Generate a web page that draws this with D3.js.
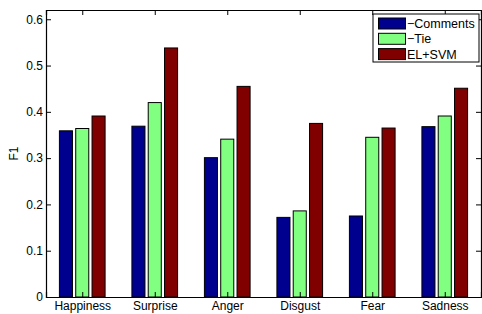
<!DOCTYPE html>
<html>
<head>
<meta charset="utf-8">
<script src="https://cdn.jsdelivr.net/npm/d3@7"></script>
<style>
  body { margin: 0; background: #fff; }
  svg { display: block; }
  text { font-family: "Liberation Sans", Arial, sans-serif; fill: #000; }
</style>
</head>
<body>
<div id="chart"></div>
<script>
// chart data
const categories = ['Happiness', 'Surprise', 'Anger', 'Disgust', 'Fear', 'Sadness'];
const seriesNames = ['\u2212Comments', '\u2212Tie', 'EL+SVM'];
const seriesColors = ['#00008f', '#80ff80', '#800000'];
const commentsValues = [0.359, 0.369, 0.301, 0.172, 0.175, 0.368];
const tieValues = [0.364, 0.420, 0.341, 0.186, 0.345, 0.391];
const elsvmValues = [0.391, 0.538, 0.455, 0.375, 0.365, 0.451];
const yTicks = [0, 0.1, 0.2, 0.3, 0.4, 0.5, 0.6];

const allSeries = [commentsValues, tieValues, elsvmValues];

const W = 482, H = 314;
const margin = {top: 10, right: 1, bottom: 17, left: 46};
const width = W - margin.left - margin.right;
const height = H - margin.top - margin.bottom;

const svg = d3.select('#chart').append('svg')
    .attr('width', W)
    .attr('height', H);

const x = d3.scaleLinear().domain([0.5, categories.length + 0.5]).range([0, width]);
const y = d3.scaleLinear().domain([0, 0.62]).range([height, 0]);

const g = svg.append('g')
    .attr('transform', 'translate(' + margin.left + ',' + margin.top + ')');

// bars
const barW = 0.18, step = 0.225;
allSeries.forEach(function (vals, s) {
  g.append('g').selectAll('rect')
      .data(vals)
      .join('rect')
      .attr('x', (d, i) => x(i + 1 + (s - 1) * step - barW / 2))
      .attr('width', x(barW) - x(0))
      .attr('y', d => y(d))
      .attr('height', d => y(0) - y(d))
      .attr('fill', seriesColors[s])
      .attr('stroke', '#000')
      .attr('stroke-width', 1);
});

// axes (matlab style box with inward ticks)
const tickIdx = categories.map((c, i) => i + 1);

const xAxis = d3.axisBottom(x).tickValues(tickIdx)
    .tickFormat(d => categories[d - 1]).tickSize(-5).tickPadding(4);
const xAxisTop = d3.axisTop(x).tickValues(tickIdx)
    .tickFormat('').tickSize(-5);
const yAxis = d3.axisLeft(y).tickValues(yTicks)
    .tickFormat(d => d === 0 ? '0' : d3.format('.1f')(d)).tickSize(-5).tickPadding(3);
const yAxisRight = d3.axisRight(y).tickValues(yTicks)
    .tickFormat('').tickSize(-5);

g.append('g').attr('transform', 'translate(0,' + height + ')').call(xAxis);
g.append('g').call(xAxisTop);
g.append('g').call(yAxis);
g.append('g').attr('transform', 'translate(' + width + ',0)').call(yAxisRight);

g.selectAll('.domain').attr('stroke', '#000').attr('stroke-width', 1.2);
g.selectAll('.tick line').attr('stroke', '#000');
g.selectAll('.tick text').attr('font-size', 12).attr('fill', '#000')
    .style('font-family', '"Liberation Sans", Arial, sans-serif');

// y label
svg.append('text')
    .attr('transform', 'translate(18,' + (margin.top + height / 2) + ') rotate(-90)')
    .attr('text-anchor', 'middle')
    .attr('font-size', 12)
    .text('F1');

// legend
const legend = svg.append('g').attr('transform', 'translate(373,14)');
legend.append('rect')
    .attr('width', 106)
    .attr('height', 48)
    .attr('fill', '#fff')
    .attr('stroke', '#000');
seriesNames.forEach(function (name, s) {
  const row = legend.append('g').attr('transform', 'translate(0,' + (4 + s * 15.3) + ')');
  row.append('rect')
      .attr('x', 5.5)
      .attr('y', 0)
      .attr('width', 27)
      .attr('height', 11)
      .attr('fill', seriesColors[s])
      .attr('stroke', '#000');
  row.append('text')
      .attr('x', 34)
      .attr('y', 10)
      .attr('font-size', 12.5)
      .text(name);
});
</script>
</body>
</html>
